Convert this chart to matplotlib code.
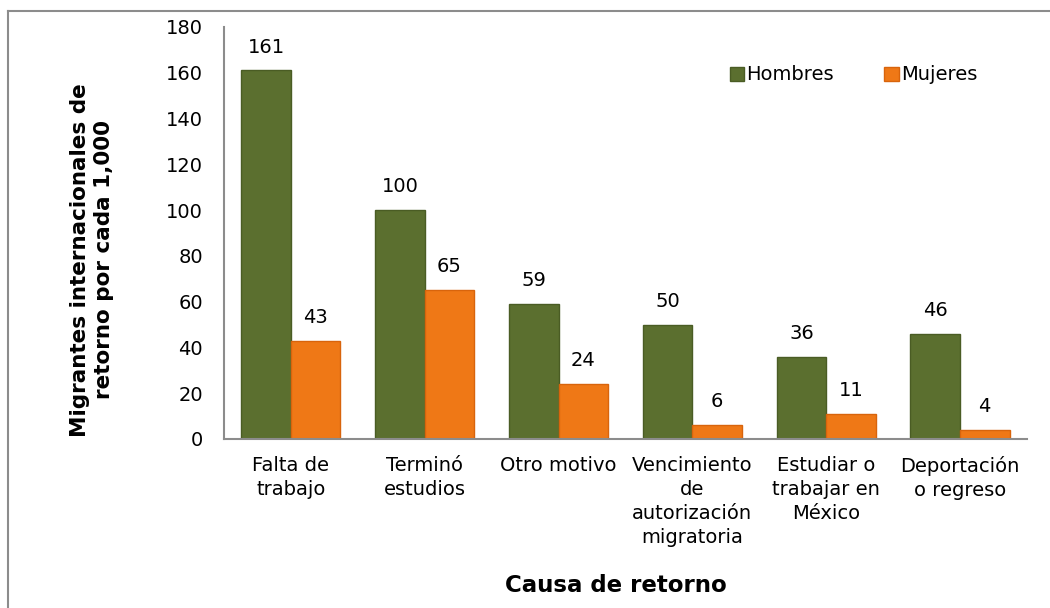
import numpy as np
import matplotlib.pyplot as plt
from matplotlib.lines import Line2D

categorias = ['Falta de\ntrabajo', 'Terminó\nestudios', 'Otro motivo',
              'Vencimiento\nde\nautorización\nmigratoria',
              'Estudiar o\ntrabajar en\nMéxico', 'Deportación\no regreso']
hombres = [161, 100, 59, 50, 36, 46]
mujeres = [43, 65, 24, 6, 11, 4]

verde = '#5b6f2f'
naranja = '#ef7816'

fig = plt.figure(figsize=(10.5, 6.08), dpi=100)
ax = fig.add_axes([0.2133, 0.278, 0.7647, 0.6776])

x = np.arange(len(categorias))
w = 0.37
b1 = ax.bar(x - w, hombres, w, align='edge', color=verde, edgecolor='#4a5c24',
            linewidth=1, label='Hombres')
b2 = ax.bar(x, mujeres, w, align='edge', color=naranja, edgecolor='#d8640c',
            linewidth=1, label='Mujeres')

for barras in (b1, b2):
    for r in barras:
        h = r.get_height()
        ax.annotate(f'{h:.0f}', (r.get_x() + r.get_width() / 2, h), xytext=(0, 10),
                    textcoords='offset points', ha='center', va='bottom', fontsize=14)

ax.set_xlim(-0.5, len(categorias) - 0.5)
ax.set_ylim(0, 180)
ax.set_yticks(range(0, 181, 20))
ax.set_xticks(x)
ax.set_xticklabels(categorias, fontsize=14, linespacing=1.35)
ax.tick_params(axis='y', labelsize=14, length=0, pad=15)
ax.tick_params(axis='x', length=0, pad=12)
for s in ['top', 'right']:
    ax.spines[s].set_visible(False)
for s in ['left', 'bottom']:
    ax.spines[s].set_color('#8c8c8c')
    ax.spines[s].set_linewidth(1.5)

fig.legend(loc='center left', bbox_to_anchor=(712 / 1050, 1 - 75 / 608), ncol=2,
           frameon=False, fontsize=14, handlelength=0.75, handleheight=0.75,
           handletextpad=0.1, columnspacing=2.6)

fig.text(92 / 1050, 1 - 260 / 608, 'Migrantes internacionales de\nretorno por cada 1,000',
         rotation=90, ha='center', va='center', fontsize=15.5, fontweight='bold',
         linespacing=1.2)
fig.text(616 / 1050, 1 - 585 / 608, 'Causa de retorno', ha='center', va='center',
         fontsize=16.5, fontweight='bold')

# borde del recuadro (solo izquierda y arriba)
fig.add_artist(Line2D([8 / 1050, 8 / 1050], [0, 1 - 11 / 608], color='#8c8c8c', lw=1.5,
                      transform=fig.transFigure))
fig.add_artist(Line2D([8 / 1050, 1], [1 - 11 / 608, 1 - 11 / 608], color='#8c8c8c', lw=1.5,
                      transform=fig.transFigure))

fig.savefig('out.png', dpi=100)
